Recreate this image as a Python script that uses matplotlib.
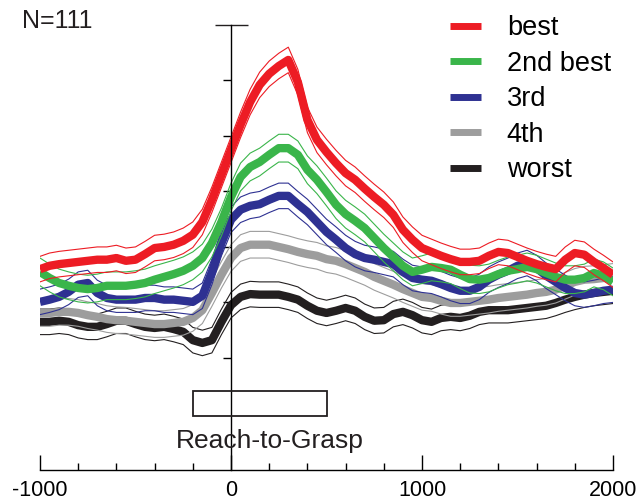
import numpy as np
import matplotlib
matplotlib.use("Agg")
import matplotlib.pyplot as plt
import matplotlib.patches as mpatches
from matplotlib.lines import Line2D
from matplotlib.ticker import MultipleLocator

# ── Data (firing rate, arbitrary units; one sample every 50 ms) ──────────
TIME = np.arange(-1000, 2001, 50)

BEST = [16.0, 16.6, 16.9, 17.1, 17.3, 17.5, 17.7, 17.7, 18.0, 17.5, 17.7,
        18.7, 19.8, 20.0, 20.4, 21.1, 22.2, 24.5, 28.5, 33.0, 37.5,
        42.0, 46.1, 49.2, 51.2, 52.6, 53.7, 49.7, 42.9, 39.3, 37.1,
        35.1, 33.3, 32.1, 30.5, 29.0, 27.6, 25.8, 23.1, 21.3, 19.8,
        19.1, 18.4, 17.8, 17.3, 17.3, 17.5, 18.4, 19.1, 18.9, 18.2,
        17.5, 16.9, 16.4, 16.0, 17.7, 18.9, 18.6, 17.3, 16.2, 15.0]
SECOND = [15.5, 14.4, 13.5, 13.0, 12.6, 12.4, 12.6, 13.0, 13.0, 13.0, 13.2,
          13.5, 14.1, 14.6, 15.1, 15.7, 16.6, 18.0, 20.7, 24.5, 29.0,
          32.6, 34.4, 35.3, 36.6, 37.8, 37.8, 36.6, 33.9, 32.1, 29.9,
          27.6, 25.9, 24.7, 23.4, 21.6, 19.8, 18.2, 16.6, 15.5, 15.9,
          16.4, 16.2, 15.9, 15.0, 14.2, 14.1, 14.4, 15.1, 15.7, 16.0,
          16.4, 16.0, 15.3, 14.6, 14.1, 14.1, 14.4, 15.3, 14.8, 13.7]
THIRD = [10.1, 10.5, 11.0, 11.9, 13.2, 13.5, 11.7, 10.8, 10.5, 10.5, 10.5,
         10.8, 10.8, 10.5, 10.5, 10.3, 10.1, 11.2, 15.5, 20.7, 24.9,
         26.7, 27.4, 27.7, 28.5, 29.2, 29.2, 27.7, 26.3, 24.5, 22.7,
         21.3, 19.8, 18.7, 18.0, 17.7, 17.3, 16.9, 15.5, 14.4, 14.1,
         13.9, 13.3, 12.6, 12.1, 12.1, 12.8, 14.1, 15.0, 15.7, 16.6,
         17.1, 16.2, 14.8, 13.7, 12.6, 11.7, 11.4, 11.7, 12.1, 12.3]
FOURTH = [8.1, 8.1, 8.3, 8.3, 8.1, 7.7, 7.4, 7.0, 6.8, 6.7, 6.5,
          6.3, 6.1, 6.1, 6.3, 6.5, 7.2, 8.6, 11.7, 15.0, 18.0,
          19.8, 20.4, 20.4, 20.4, 20.0, 19.6, 19.1, 18.7, 18.4, 17.8,
          17.5, 16.9, 16.2, 15.5, 14.6, 13.9, 13.2, 12.4, 11.7, 11.0,
          10.8, 10.3, 9.9, 9.9, 10.1, 10.3, 10.5, 10.8, 11.0, 11.2,
          11.4, 11.7, 11.9, 12.3, 13.0, 13.7, 14.1, 14.2, 14.4, 14.6]
WORST = [6.5, 6.5, 6.7, 6.5, 5.9, 5.6, 5.6, 6.1, 6.7, 6.7, 6.1,
         5.6, 5.4, 5.6, 5.2, 4.7, 3.2, 2.7, 3.2, 6.5, 9.5,
         11.0, 11.5, 11.4, 11.4, 11.4, 11.0, 10.5, 9.4, 8.5, 8.1,
         8.5, 9.0, 8.5, 7.4, 6.7, 6.8, 7.9, 8.3, 7.7, 6.8,
         6.5, 7.2, 7.4, 7.2, 7.6, 8.3, 8.6, 8.6, 8.6, 8.8,
         9.0, 9.2, 9.4, 9.9, 10.5, 11.0, 11.4, 11.7, 11.9, 12.1]

SERIES = [BEST, SECOND, THIRD, FOURTH, WORST]
LABELS = ["best", "2nd best", "3rd", "4th", "worst"]
SEM = [2.3, 2.5, 2.3, 2.4, 2.3]
COLORS = ["#ED1C24", "#3AB54A", "#2E3192", "#9D9D9D", "#231F20"]

YTICKS = [0, 10, 20, 30, 40, 50, 60]
XTICKS = [-1000, 0, 1000, 2000]
MOVE_ON, MOVE_OFF = -200, 500   # reach-to-grasp epoch (ms)

# ── Figure ───────────────────────────────────────────────────────────────
plt.rcParams["font.family"] = ["Liberation Sans", "DejaVu Sans"]
plt.rcParams["axes.unicode_minus"] = False

fig = plt.figure(figsize=(6.39, 5.0), dpi=100)
ax = fig.add_axes([40 / 639, 30 / 500, 573 / 639, 470 / 500])

handles = []
for mean, sem, color, label in reversed(list(zip(SERIES, SEM, COLORS, LABELS))):
    m = np.asarray(mean)
    ax.plot(TIME, m + sem, color=color, lw=0.8, zorder=2)
    ax.plot(TIME, m - sem, color=color, lw=0.8, zorder=2)
    ax.plot(TIME, m, color=color, lw=6, zorder=2, solid_capstyle="butt")
    handles.insert(0, Line2D([], [], color=color, lw=5, solid_capstyle="butt"))

ax.set_xlim(TIME[0], TIME[-1])
ax.set_ylim(-20.2, 64.5)

# axes: bottom time axis, vertical scale line at movement onset
for side in ("top", "right"):
    ax.spines[side].set_visible(False)
ax.spines["bottom"].set_linewidth(1.0)
ax.spines["left"].set_position(("data", 0))
ax.spines["left"].set_bounds(-20.2, YTICKS[-1])
ax.spines["left"].set_linewidth(1.0)
ax.set_yticks(YTICKS[:-1])
ax.set_yticklabels([])
ax.tick_params(axis="y", direction="out", length=6, width=1.0)
ax.hlines(YTICKS[-1], -85, 90, color="#231F20", lw=1.0)

ax.set_xticks(XTICKS)
ax.xaxis.set_minor_locator(MultipleLocator(200))
ax.tick_params(axis="x", which="major", direction="in", length=10.5, width=1.0,
               labelsize=15.5, pad=7)
ax.tick_params(axis="x", which="minor", direction="in", length=5, width=1.0)

# movement epoch box
ax.add_patch(mpatches.Rectangle((MOVE_ON, -10.5), MOVE_OFF - MOVE_ON, 4.6,
                                fill=False, edgecolor="#231F20", lw=1.3,
                                zorder=3))
ax.text(205, -15.0, "Reach-to-Grasp", ha="center", va="center", fontsize=19,
        color="#231F20")

fig.text(22 / 639, 1 - 21 / 500, "N=111", ha="left", va="center",
         fontsize=18, color="#231F20")

ax.legend(handles, LABELS, loc="upper left",
          bbox_to_anchor=(450 / 639, 1 - 15 / 500),
          bbox_transform=fig.transFigure, frameon=False, fontsize=19.5,
          handlelength=1.15, handletextpad=0.95, labelspacing=0.355,
          borderpad=0, borderaxespad=0)

fig.savefig("out.png", dpi=100, facecolor="white")
